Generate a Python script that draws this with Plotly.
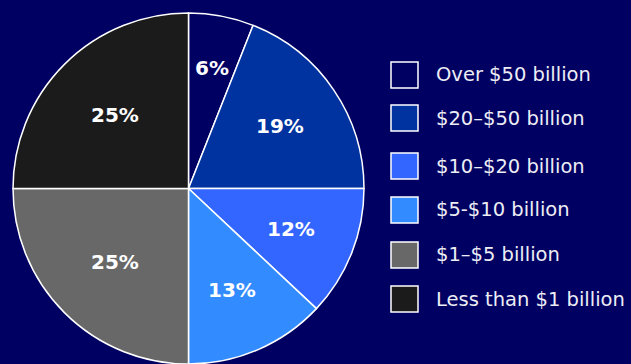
import math
import plotly.graph_objects as go

# Share of companies by revenue band
labels = ["Over $50 billion", "$20–$50 billion", "$10–$20 billion",
          "$5-$10 billion", "$1–$5 billion", "Less than $1 billion"]
shares = [6, 19, 12, 13, 25, 25]
colors = ["#000062", "#0033A0", "#3366FF", "#338CFF", "#686868", "#1B1B1B"]

BG = "#000062"
W, H = 631, 364
T, B = 13, 0  # top/bottom margins in px
plot_h = H - T - B

pie_x0, pie_x1 = 12.5, 364.5  # horizontal extent of the pie domain, px

fig = go.Figure()
fig.add_trace(go.Pie(
    labels=labels,
    values=shares,
    sort=False,
    direction="clockwise",
    rotation=0,
    marker=dict(colors=colors, line=dict(color="white", width=1.5)),
    textinfo="none",
    domain=dict(x=[pie_x0 / W, pie_x1 / W], y=[0, 1]),
    showlegend=False,
    hoverinfo="label+percent",
))


def ypaper(px):
    return (H - B - px) / plot_h


def label_radius(share):
    """Radial position of a slice label, as a fraction of the pie radius."""
    if share < 0.08:   # narrow slice: push the label outward where there is room
        return 0.70
    if share >= 0.24:  # quarter slices
        return 0.59
    return 0.63


annotations, shapes = [], []

# Percentage labels placed along each slice's bisector
cx = (pie_x0 + pie_x1) / 2
cy = T + plot_h / 2
R = min(pie_x1 - pie_x0, plot_h) / 2
total = sum(shares)
cum = 0
for v in shares:
    mid = (cum + v / 2) / total * 2 * math.pi
    cum += v
    frac = label_radius(v / total)
    lx = cx + frac * R * math.sin(mid)
    ly = cy - frac * R * math.cos(mid)
    annotations.append(dict(xref="paper", yref="paper", x=lx / W, y=ypaper(ly),
                            text=f"{v}%", showarrow=False,
                            xanchor="center", yanchor="middle",
                            font=dict(family="DejaVu Sans", size=20, color="white",
                                      weight="bold")))

# Custom legend: square swatches with text to the right
row_centers = [75, 118, 166, 210, 255, 299]  # pixel rows from top of page
box_x0, box_w, box_h = 391, 27, 26
for lab, col, yc in zip(labels, colors, row_centers):
    shapes.append(dict(type="rect", xref="paper", yref="paper",
                       x0=box_x0 / W, x1=(box_x0 + box_w) / W,
                       y0=ypaper(yc + box_h / 2), y1=ypaper(yc - box_h / 2),
                       fillcolor=col, line=dict(color="white", width=1.5)))
    annotations.append(dict(xref="paper", yref="paper", x=434 / W, y=ypaper(yc),
                            text=lab, showarrow=False, xanchor="left", yanchor="middle",
                            font=dict(family="DejaVu Sans", size=19.5, color="#EDEDF5")))

fig.update_layout(
    width=W, height=H,
    margin=dict(l=0, r=0, t=T, b=B),
    paper_bgcolor=BG, plot_bgcolor=BG,
    shapes=shapes, annotations=annotations,
)

fig.write_html("out.html")
